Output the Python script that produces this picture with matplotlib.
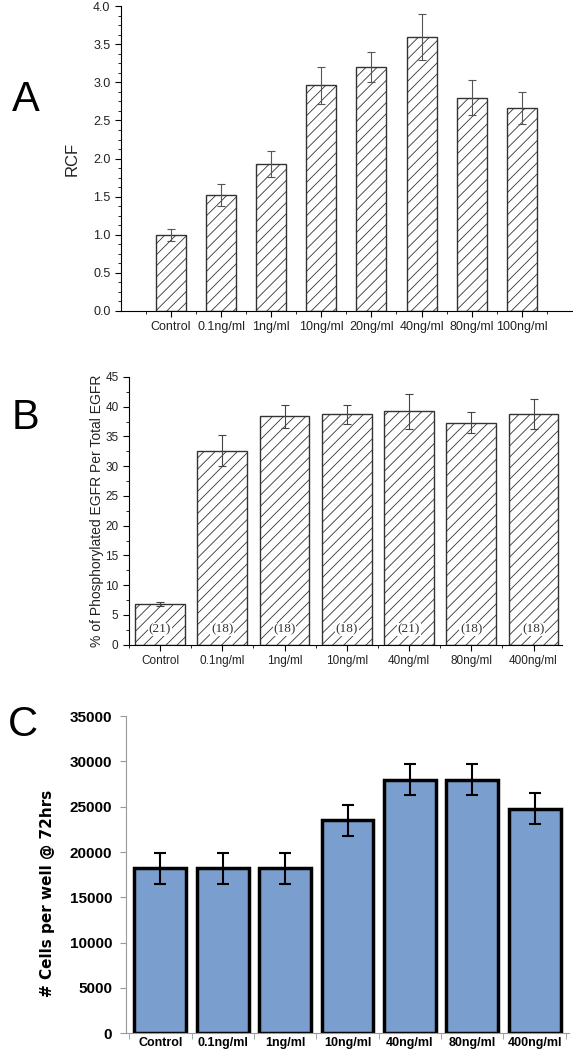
import matplotlib
matplotlib.use('Agg')
import matplotlib.pyplot as plt
import numpy as np

# panel A
cats_a = ['Control', '0.1ng/ml', '1ng/ml', '10ng/ml', '20ng/ml', '40ng/ml', '80ng/ml', '100ng/ml']
rcf = [1.0, 1.52, 1.93, 2.96, 3.2, 3.6, 2.8, 2.66]
rcf_err = [0.08, 0.14, 0.17, 0.24, 0.2, 0.3, 0.23, 0.21]

# panel B
cats_b = ['Control', '0.1ng/ml', '1ng/ml', '10ng/ml', '40ng/ml', '80ng/ml', '400ng/ml']
phos = [6.8, 32.6, 38.4, 38.7, 39.2, 37.3, 38.8]
phos_err = [0.3, 2.6, 1.9, 1.6, 3.0, 1.8, 2.5]
n_b = ['(21)', '(18)', '(18)', '(18)', '(21)', '(18)', '(18)']

# panel C
cats_c = ['Control', '0.1ng/ml', '1ng/ml', '10ng/ml', '40ng/ml', '80ng/ml', '400ng/ml']
cells = [18200, 18200, 18200, 23500, 28000, 28000, 24800]
cells_err = [1700, 1700, 1700, 1700, 1700, 1700, 1700]

plt.rcParams['font.family'] = ['Liberation Sans', 'DejaVu Sans']
plt.rcParams['hatch.linewidth'] = 0.6
plt.rcParams['hatch.color'] = '#555555'

fig = plt.figure(figsize=(5.73, 10.5), dpi=100)

# ---- A ----
ax = fig.add_axes([0.211, 0.704, 0.787, 0.290])
xa = np.arange(1, len(cats_a) + 1)
ax.bar(xa, rcf, width=0.6, color='white', edgecolor='#333333', linewidth=1.0, hatch='///')
ax.errorbar(xa, rcf, yerr=rcf_err, fmt='none', ecolor='#555555', elinewidth=0.8, capsize=3, capthick=0.8)
ax.set_xlim(0, 9)
ax.set_ylim(0, 4.0)
ax.set_xticks(xa)
ax.set_xticklabels(cats_a, fontsize=9, color='#222222')
ax.set_xticks(np.arange(0.5, 9, 1), minor=True)
ax.set_yticks(np.arange(0, 4.01, 0.5))
ax.set_yticklabels(['%.1f' % v for v in np.arange(0, 4.01, 0.5)], fontsize=9, color='#222222')
ax.set_yticks(np.arange(0, 4.01, 0.125), minor=True)
ax.tick_params(axis='both', which='major', length=4, width=0.8, direction='out')
ax.tick_params(axis='both', which='minor', length=2, width=0.6, direction='out')
ax.spines['top'].set_visible(False)
ax.spines['right'].set_visible(False)
ax.set_ylabel('RCF', fontsize=12, color='#222222', labelpad=10)
fig.text(0.045, 0.905, 'A', fontsize=30, ha='center', va='center')

# ---- B ----
ax = fig.add_axes([0.225, 0.386, 0.755, 0.255])
xb = np.arange(len(cats_b))
ax.bar(xb, phos, width=0.8, color='white', edgecolor='#333333', linewidth=1.0, hatch='///')
ax.errorbar(xb, phos, yerr=phos_err, fmt='none', ecolor='#444444', elinewidth=0.8, capsize=3, capthick=0.8)
for x, t in zip(xb, n_b):
    ax.text(x, 2.6, t, ha='center', va='center', fontsize=9.5, family='Liberation Serif',
            color='#333333', bbox=dict(facecolor='white', edgecolor='none', pad=0.5))
ax.set_xlim(-0.5, 6.45)
ax.set_ylim(0, 45)
ax.set_xticks(xb)
ax.set_xticklabels(cats_b, fontsize=8.5, color='#222222')
ax.set_xticks(np.arange(-0.5, 6.5, 1), minor=True)
ax.set_yticks(np.arange(0, 46, 5))
ax.set_yticklabels([str(v) for v in range(0, 46, 5)], fontsize=8.5, color='#222222')
ax.set_yticks(np.arange(0, 46, 2.5), minor=True)
ax.tick_params(axis='both', which='major', length=4, width=0.8, direction='out')
ax.tick_params(axis='both', which='minor', length=2, width=0.6, direction='out')
ax.spines['top'].set_visible(False)
ax.spines['right'].set_visible(False)
ax.set_ylabel('% of Phosphorylated EGFR Per Total EGFR', fontsize=10, color='#222222', labelpad=1)
fig.text(0.045, 0.602, 'B', fontsize=30, ha='center', va='center')

# ---- C ----
ax = fig.add_axes([0.22, 0.016, 0.773, 0.302])
xc = np.arange(len(cats_c))
ax.bar(xc, cells, width=0.83, color='#7a9fce', edgecolor='black', linewidth=2.5)
ax.errorbar(xc, cells, yerr=cells_err, fmt='none', ecolor='black', elinewidth=1.5, capsize=4, capthick=1.5)
ax.set_xlim(-0.55, 6.55)
ax.set_ylim(0, 35000)
ax.set_yticks(np.arange(0, 35001, 5000))
ax.set_yticklabels([str(v) for v in range(0, 35001, 5000)], fontsize=11, fontweight='bold')
ax.set_xticks(xc)
ax.set_xticklabels(cats_c, fontsize=9, fontweight='bold')
ax.set_xticks(np.arange(-0.5, 6.6, 1), minor=True)
ax.tick_params(axis='x', which='major', length=0, pad=3)
ax.tick_params(axis='x', which='minor', length=4, color='#999999')
ax.tick_params(axis='y', which='major', length=4, color='#999999', pad=6)
ax.spines['top'].set_visible(False)
ax.spines['right'].set_visible(False)
ax.spines['left'].set_color('#999999')
ax.spines['bottom'].set_color('#999999')
ax.set_ylabel('# Cells per well @ 72hrs', fontsize=11, fontweight='bold', family='DejaVu Sans')
ax.yaxis.set_label_coords(-0.16, 0.44)
fig.text(0.04, 0.31, 'C', fontsize=30, ha='center', va='center')

fig.savefig('out.png', dpi=100)
